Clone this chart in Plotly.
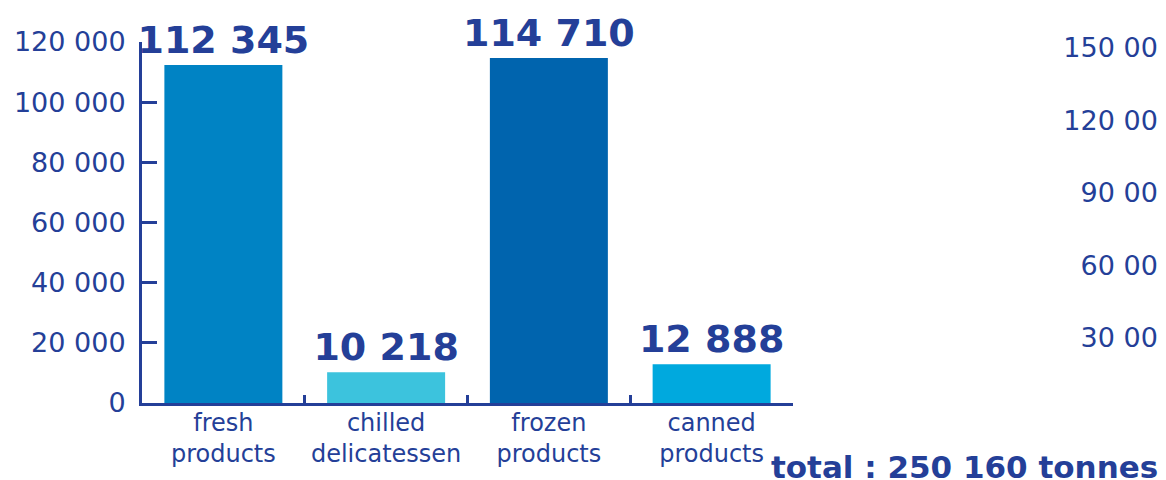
import plotly.graph_objects as go

# tonnes per product family
categories = ['fresh<br>products', 'chilled<br>delicatessen', 'frozen<br>products', 'canned<br>products']
tonnes = [112345, 10218, 114710, 12888]
bar_colors = ['#0083c4', '#3cc3dd', '#0064ae', '#00a9de']
total_tonnes = 250160

# axis ticks (left chart and the clipped chart on the right)
left_ticks = [0, 20000, 40000, 60000, 80000, 100000, 120000]
right_ticks = [0, 30000, 60000, 90000, 120000, 150000]

W, H = 1166, 480
OFF = 8  # page body margin shifts the figure by 8px


def fx(px):
    return (px - OFF) / W


def fy(py):
    return (H - (py - OFF)) / H


navy = '#243f98'
tick_font = dict(family='DejaVu Sans', size=27, color=navy)

fig = go.Figure()
fig.add_trace(go.Bar(
    x=categories,
    y=tonnes,
    marker=dict(color=bar_colors, line=dict(width=0)),
    texttemplate='%{y:,d}',
    textposition='outside',
    constraintext='none',
    textfont=dict(family='DejaVu Sans', size=38, color=navy, weight='bold'),
    cliponaxis=False,
    hoverinfo='skip',
))
# empty helper trace so the right-hand (cut off) axis gets drawn
fig.add_trace(go.Scatter(x=[None], y=[None], xaxis='x2', yaxis='y2',
                         mode='markers', hoverinfo='skip'))

total_txt = f'{total_tonnes:,}'.replace(',', ' ')

fig.update_layout(
    width=W,
    height=H,
    margin=dict(l=0, r=0, t=0, b=0),
    paper_bgcolor='white',
    plot_bgcolor='white',
    separators=', ',
    showlegend=False,
    bargap=0.275,
    xaxis=dict(
        domain=[fx(142), fx(793)],
        showline=True, linecolor=navy, linewidth=3,
        ticks='inside', tickson='boundaries', ticklen=8, tickwidth=3, tickcolor=navy,
        tickfont=dict(family='DejaVu Sans', size=24, color=navy),
        tickangle=0, automargin=False, ticklabelstandoff=-4,
        showgrid=False,
    ),
    yaxis=dict(
        domain=[fy(403), fy(42)],
        range=[0, 120000],
        tickvals=left_ticks,
        tickformat=',d',
        showline=True, linecolor=navy, linewidth=3,
        ticks='inside', ticklen=15, tickwidth=3, tickcolor=navy,
        tickfont=tick_font, automargin=False, ticklabelstandoff=8,
        showgrid=False, zeroline=False,
    ),
    xaxis2=dict(domain=[0.9, 1.0], anchor='y2', visible=False, automargin=False),
    yaxis2=dict(
        domain=[fy(410), fy(48)],
        range=[0, 150000],
        tickvals=right_ticks,
        tickformat=',d',
        anchor='free', position=1.0, side='left',
        showline=False, ticks='', showgrid=False, zeroline=False,
        tickfont=tick_font, automargin=False,
        ticklabelstandoff=-1,
    ),
    annotations=[dict(
        text=f'<b>total : {total_txt} tonnes</b>',
        xref='paper', yref='paper', x=fx(1160), y=0,
        xanchor='right', yanchor='bottom', yshift=1,
        showarrow=False,
        font=dict(family='DejaVu Sans', size=31, color=navy),
    )],
)

fig.write_html('out.html')
